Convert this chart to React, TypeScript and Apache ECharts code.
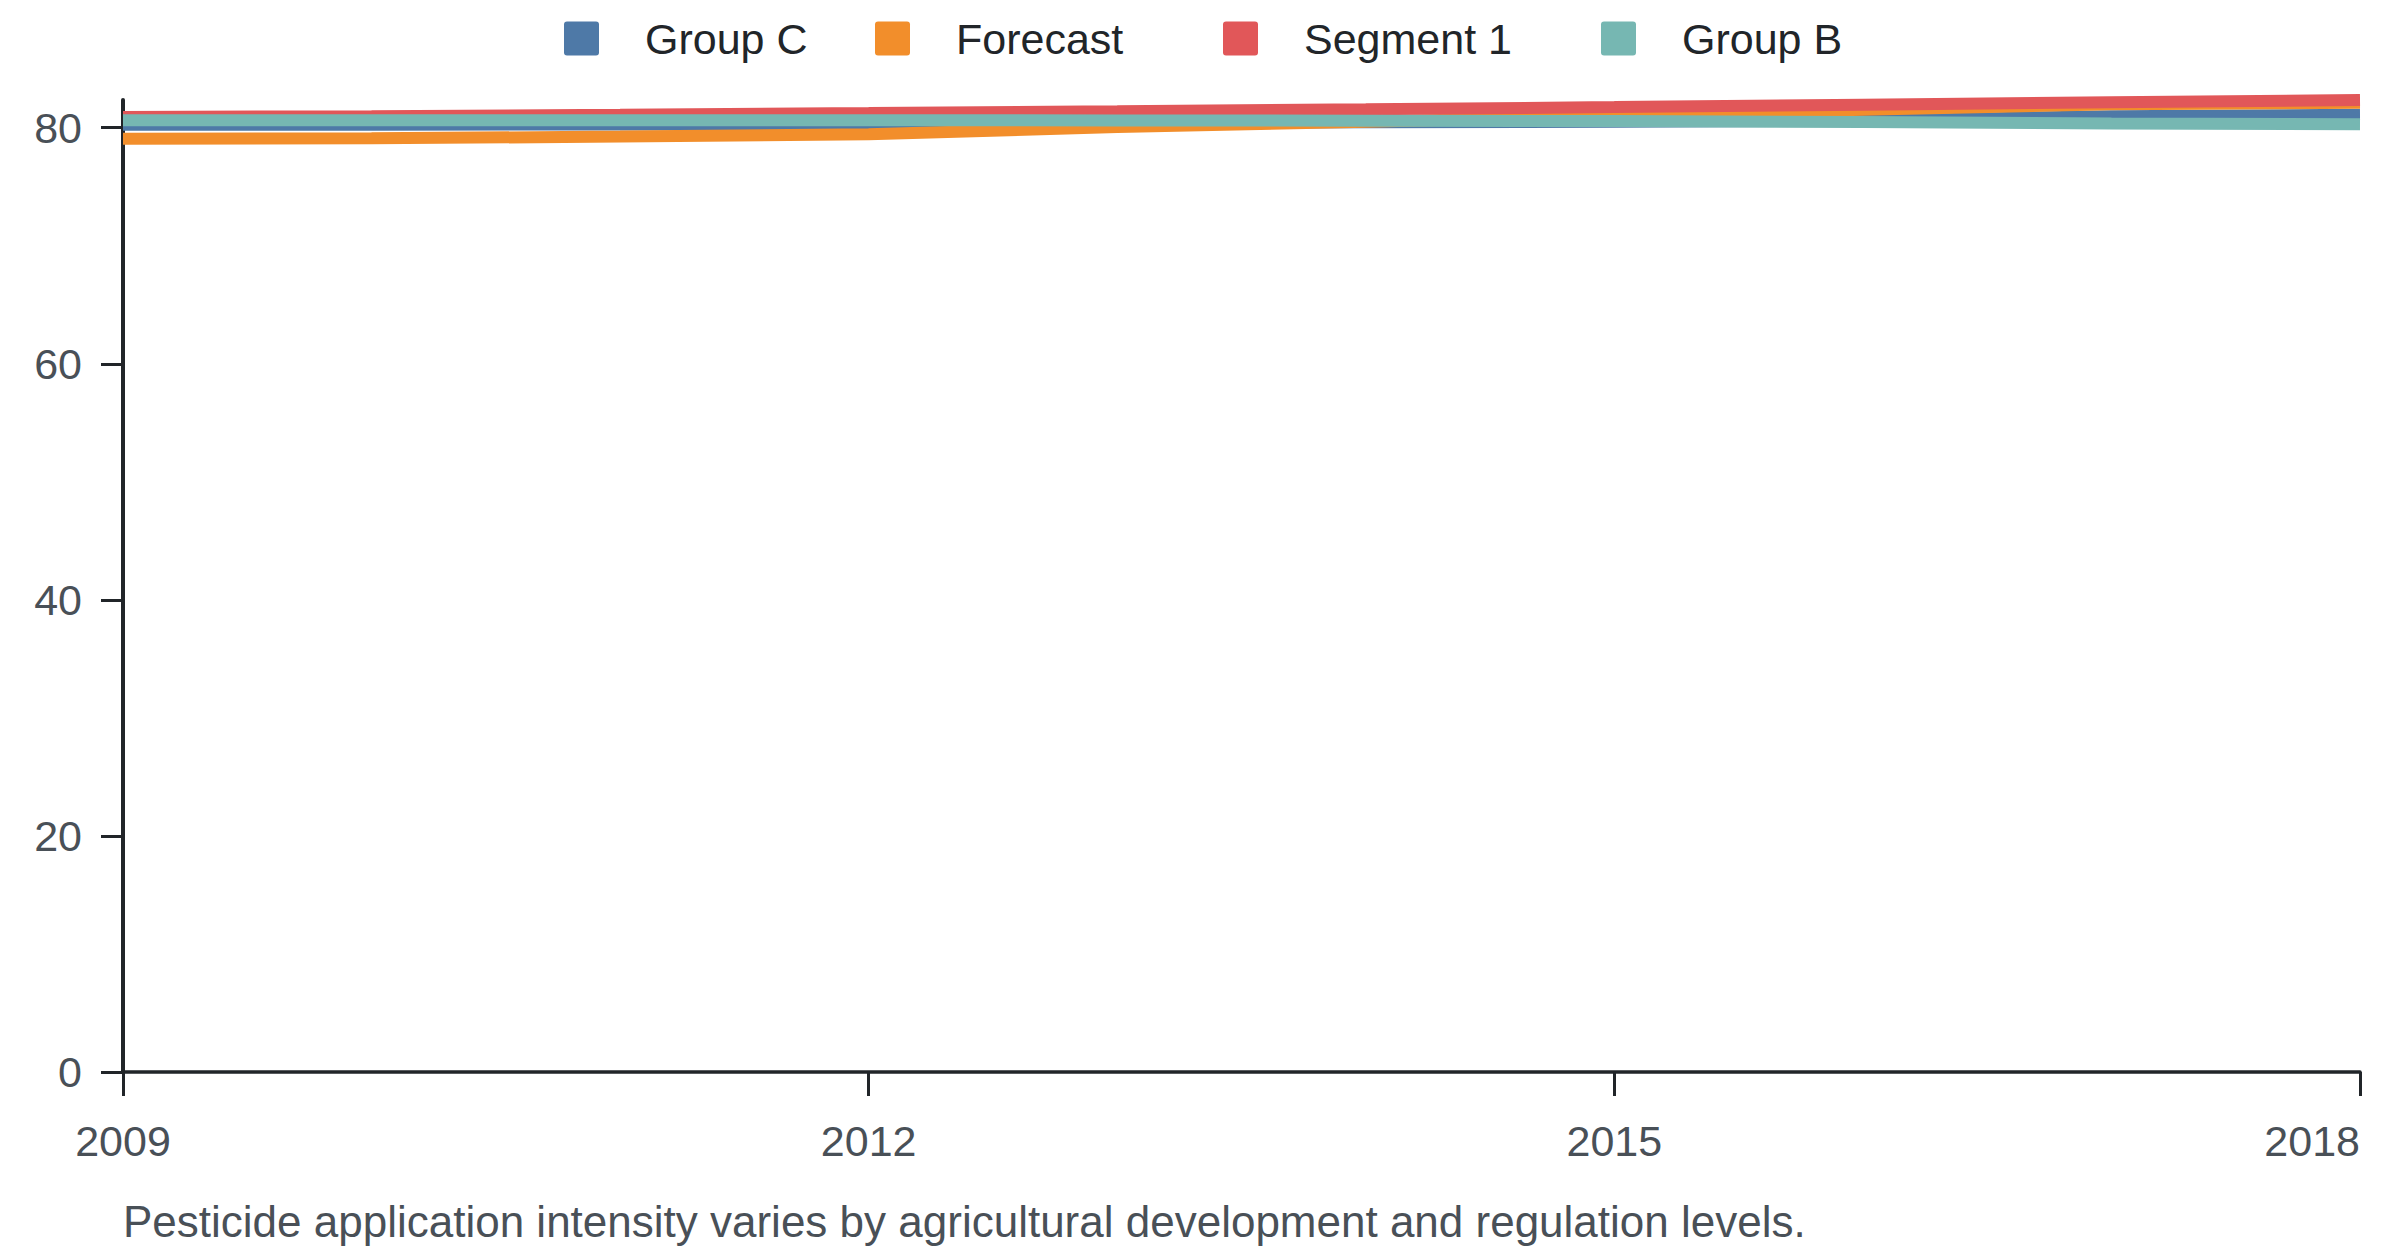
import React, { useEffect, useRef } from "react";
import * as echarts from "echarts";

const years = ["2009", "2010", "2011", "2012", "2013", "2014", "2015", "2016", "2017", "2018"];
const groupC = [80.25, 80.25, 80.28, 80.32, 80.42, 80.47, 80.5, 80.6, 80.98, 81.1];
const forecast = [79.06, 79.1, 79.25, 79.45, 80.06, 80.5, 81.0, 81.53, 81.98, 82.12];
const segment1 = [80.9, 80.98, 81.1, 81.24, 81.39, 81.56, 81.75, 81.95, 82.15, 82.35];
const groupB = [80.64, 80.64, 80.64, 80.64, 80.62, 80.6, 80.57, 80.48, 80.36, 80.29];

const seriesNames = ["Group C", "Forecast", "Segment 1", "Group B"];
const seriesValues = [groupC, forecast, segment1, groupB];
const colors = ["#4e79a7", "#f28e2b", "#e15759", "#76b7b2"];
const legendLefts = [564, 875, 1223, 1601];
const caption = "Pesticide application intensity varies by agricultural development and regulation levels.";

const iconPath =
  "path://M3,0H32A3,3 0 0 1 35,3V31A3,3 0 0 1 32,34H3A3,3 0 0 1 0,31V3A3,3 0 0 1 3,0Z";

export default function App() {
  const ref = useRef<HTMLDivElement>(null);
  useEffect(() => {
    if (!ref.current) return;
    const chart = echarts.init(ref.current, undefined, { renderer: "svg" });
    const font = "'Liberation Sans', Arial, sans-serif";
    chart.setOption({
      animation: false,
      color: colors,
      textStyle: { fontFamily: font },
      legend: seriesNames.map((n, i) => ({
        data: [n],
        left: legendLefts[i],
        top: 17,
        padding: 0,
        icon: iconPath,
        itemWidth: 35,
        itemHeight: 34,
        textStyle: {
          fontSize: 43,
          color: "#212529",
          fontFamily: font,
          padding: [0, 0, 0, 41],
          lineHeight: 34,
        },
      })),
      grid: { left: 123, right: 40, top: 100, bottom: 184, containLabel: false },
      xAxis: {
        type: "category",
        data: years,
        boundaryGap: false,
        axisLine: { show: true, lineStyle: { color: "#212529", width: 3.5 } },
        axisTick: { show: true, interval: 2, length: 24, lineStyle: { color: "#212529", width: 3 } },
        axisLabel: {
          interval: 2,
          margin: 47,
          fontSize: 43,
          color: "#495057",
          fontFamily: font,
          alignMaxLabel: "right",
        },
        splitLine: { show: false },
      },
      yAxis: {
        type: "value",
        min: 0,
        max: "dataMax",
        interval: 20,
        axisLine: { show: true, lineStyle: { color: "#212529", width: 4 } },
        axisTick: { show: true, length: 22, lineStyle: { color: "#212529", width: 3 } },
        axisLabel: { margin: 41, fontSize: 43, color: "#495057", fontFamily: font },
        splitLine: { show: false },
      },
      graphic: [
        {
          type: "text",
          x: 123,
          y: 1221,
          style: {
            text: caption,
            fontSize: 44,
            fill: "#495057",
            fontFamily: font,
            verticalAlign: "middle",
            align: "left",
          },
        },
      ],
      series: seriesNames.map((n, i) => ({
        name: n,
        type: "line",
        data: seriesValues[i],
        showSymbol: false,
        symbol: "none",
        lineStyle: { width: 12, color: colors[i], cap: "butt" },
        itemStyle: { color: colors[i] },
      })),
    });
    return () => chart.dispose();
  }, []);
  return (
    <div
      ref={ref}
      style={{ position: "absolute", left: 0, top: 0, width: 2400, height: 1256, background: "#fff" }}
    />
  );
}
